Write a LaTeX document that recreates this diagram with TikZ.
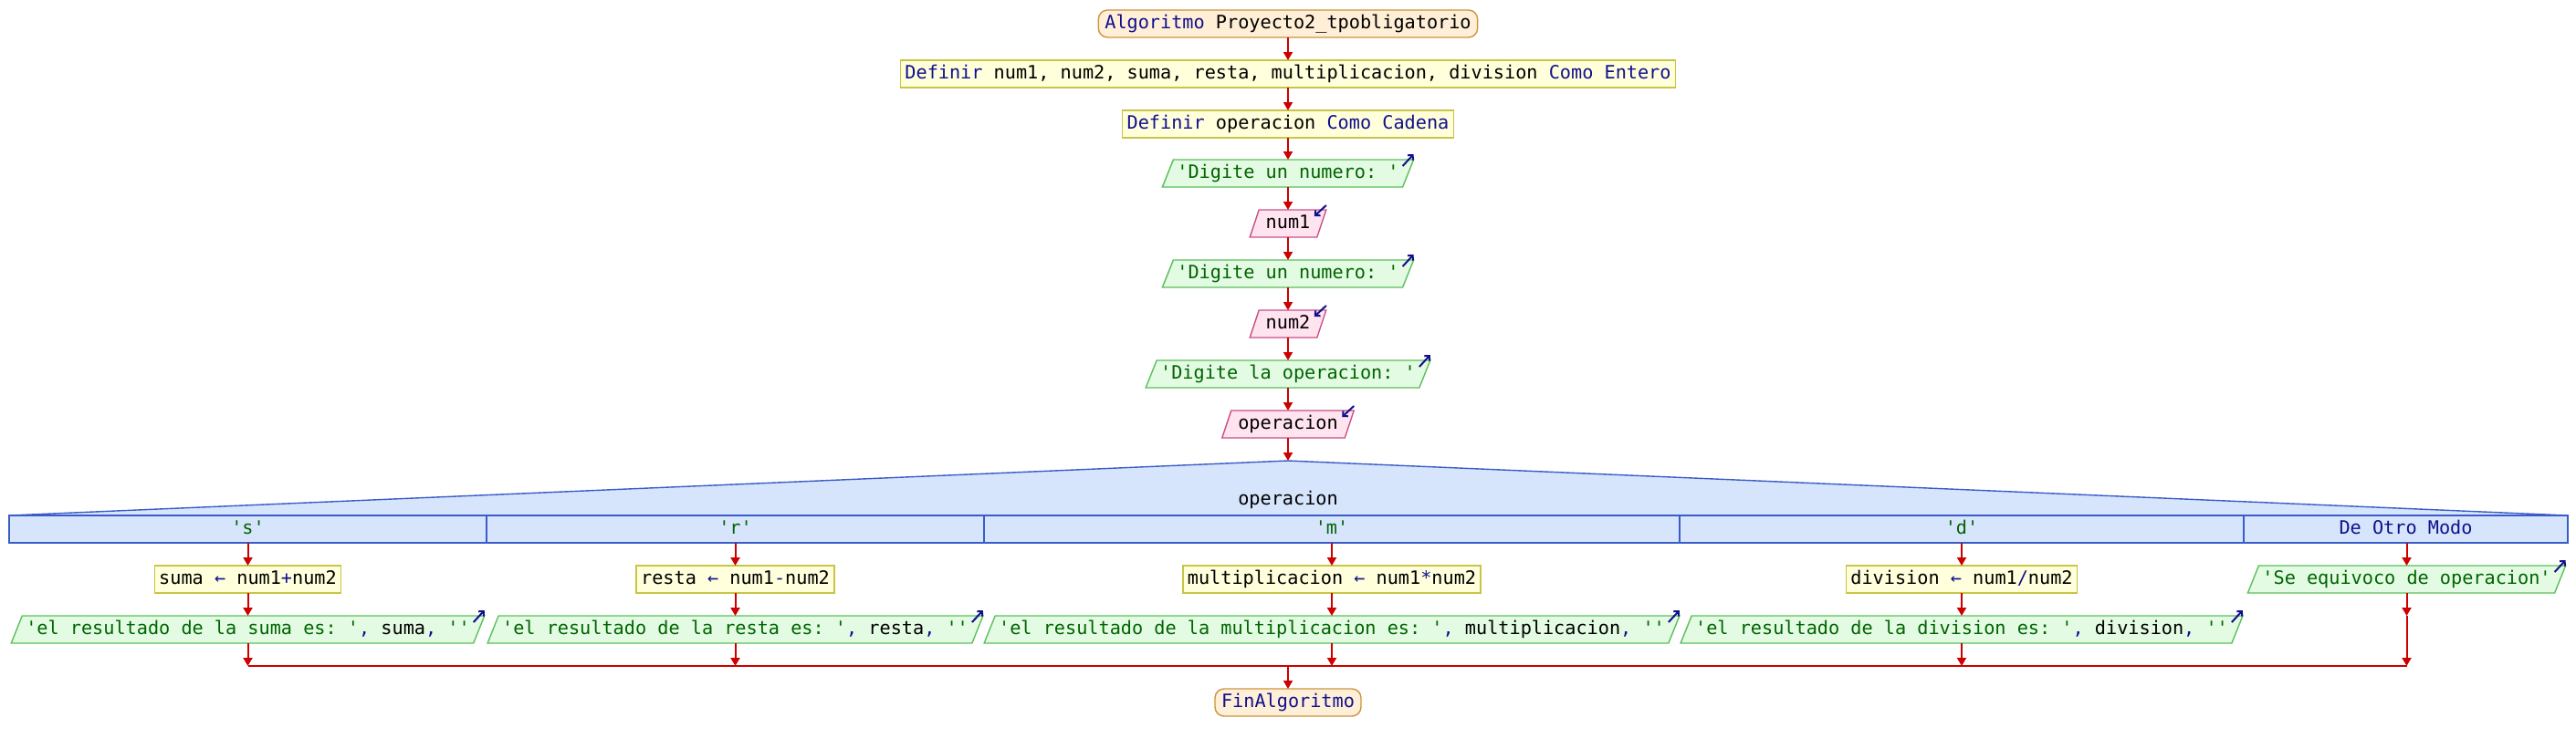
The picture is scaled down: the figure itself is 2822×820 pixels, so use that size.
\documentclass[tikz,border=0pt]{standalone}
\usepackage{fontspec}
\setmonofont{DejaVu Sans Mono}
\usetikzlibrary{arrows.meta,backgrounds}
\definecolor{startFill}{HTML}{FFEFD6}
\definecolor{startDraw}{HTML}{CC9444}
\definecolor{procFill}{HTML}{FFFFDC}
\definecolor{procDraw}{HTML}{C8C446}
\definecolor{outFill}{HTML}{E3FBE3}
\definecolor{outDraw}{HTML}{5CBF5C}
\definecolor{inFill}{HTML}{FFE3EF}
\definecolor{inDraw}{HTML}{C8508A}
\definecolor{swFill}{HTML}{D6E4FC}
\definecolor{swDraw}{HTML}{3A5CC8}
\definecolor{flowRed}{HTML}{CC0000}
\definecolor{kwBlue}{HTML}{10108C}
\definecolor{strGreen}{HTML}{006400}
\newcommand\kwd[1]{\textcolor{kwBlue}{#1}}
\newcommand\qstr[1]{\textcolor{strGreen}{#1}}
\tikzset{
  base/.style={font=\ttfamily\fontsize{20.2}{24}\selectfont, minimum height=30pt,
    inner ysep=0pt, outer sep=0pt, text height=15pt, text depth=4.5pt, line width=1.4pt},
  term/.style={base, draw=startDraw, fill=startFill, rounded corners=10pt, inner xsep=7pt},
  proc/.style={base, draw=procDraw, fill=procFill, inner xsep=5pt},
  outp/.style={base, inner xsep=10pt},
  inp/.style={base, inner xsep=12.5pt},
  casebox/.style={base, draw=swDraw, fill=swFill, inner xsep=0pt},
  plainlabel/.style={base, inner xsep=0pt},
  outshape/.style={draw=outDraw, fill=outFill, line width=1.4pt},
  inshape/.style={draw=inDraw, fill=inFill, line width=1.4pt},
  flow/.style={draw=flowRed, line width=2pt, -{Triangle[length=9pt,width=10pt]}},
  joinline/.style={draw=flowRed, line width=2.6pt},
  icon/.style={draw=kwBlue, line width=2pt, -{Straight Barb[length=4pt,width=8pt]}},
}
\begin{document}
\begin{tikzpicture}[x=1pt,y=-1pt]
\useasboundingbox (0,0) rectangle (2822,820);
% main column
\node[term] (start) at (1411,26) {\kwd{Algoritmo} Proyecto2\_tpobligatorio};
\node[proc] (def1) at (1411,81) {\kwd{Definir} num1, num2, suma, resta, multiplicacion, division \kwd{Como Entero}};
\node[proc] (def2) at (1411,136) {\kwd{Definir} operacion \kwd{Como Cadena}};
\node[outp] (o1) at (1411,190) {\qstr{'Digite un numero: '}};
\node[inp] (i1) at (1411,245) {num1};
\node[outp] (o2) at (1411,300) {\qstr{'Digite un numero: '}};
\node[inp] (i2) at (1411,355) {num2};
\node[outp] (o3) at (1411,410) {\qstr{'Digite la operacion: '}};
\node[inp] (i3) at (1411,465) {operacion};
% switch
\coordinate (apex) at (1411,505);
\fill[swFill] (10,565) -- (apex) -- (2813,565) -- (2813,595) -- (10,595) -- cycle;
\draw[swDraw, line width=1.4pt] (10,565) -- (apex) -- (2813,565);
\node[plainlabel] (swl) at (1411,548) {operacion};
\node[casebox, minimum width=523pt] (cs) at (271.5,580) {\qstr{'s'}};
\node[casebox, minimum width=545pt] (cr) at (805.5,580) {\qstr{'r'}};
\node[casebox, minimum width=762pt] (cm) at (1459,580) {\qstr{'m'}};
\node[casebox, minimum width=618pt] (cd) at (2149,580) {\qstr{'d'}};
\node[casebox, minimum width=355pt] (co) at (2635.5,580) {\kwd{De Otro Modo}};
% branches
\node[proc] (ps) at (271.5,635) {suma \kwd{←} num1\kwd{+}num2};
\node[proc] (pr) at (805.5,635) {resta \kwd{←} num1\kwd{-}num2};
\node[proc] (pm) at (1459,635) {multiplicacion \kwd{←} num1\kwd{*}num2};
\node[proc] (pd) at (2149,635) {division \kwd{←} num1\kwd{/}num2};
\node[outp] (oo) at (2636.5,635) {\qstr{'Se equivoco de operacion'}};
\node[outp] (os) at (271.5,690) {\qstr{'el resultado de la suma es: '}\kwd{,} suma\kwd{,} \qstr{''}};
\node[outp] (or) at (805.5,690) {\qstr{'el resultado de la resta es: '}\kwd{,} resta\kwd{,} \qstr{''}};
\node[outp] (om) at (1459,690) {\qstr{'el resultado de la multiplicacion es: '}\kwd{,} multiplicacion\kwd{,} \qstr{''}};
\node[outp] (od) at (2149,690) {\qstr{'el resultado de la division es: '}\kwd{,} division\kwd{,} \qstr{''}};
\node[term] (fin) at (1411,770) {\kwd{FinAlgoritmo}};
% parallelogram outlines behind the texts
\begin{scope}[on background layer]
\foreach \n in {o1,o2,o3,oo,os,or,om,od}{
  \draw[outshape] ([xshift=6pt]\n.north west) -- ([xshift=6pt]\n.north east)
    -- ([xshift=-6pt]\n.south east) -- ([xshift=-6pt]\n.south west) -- cycle;
}
\foreach \n in {i1,i2,i3}{
  \draw[inshape] ([xshift=5pt]\n.north west) -- ([xshift=5pt]\n.north east)
    -- ([xshift=-5pt]\n.south east) -- ([xshift=-5pt]\n.south west) -- cycle;
}
\end{scope}
% icons
\foreach \n in {o1,o2,o3,oo,os,or,om,od}{
  \draw[icon] ([xshift=-6pt,yshift=-7pt]\n.north east) -- ([xshift=6pt,yshift=6pt]\n.north east);
}
\foreach \n in {i1,i2,i3}{
  \draw[icon] ([xshift=5pt,yshift=5pt]\n.north east) -- ([xshift=-8pt,yshift=-7pt]\n.north east);
}
% join coordinates
\coordinate (js) at (271.5,730);
\coordinate (jr) at (805.5,730);
\coordinate (jm) at (1459,730);
\coordinate (jd) at (2149,730);
\coordinate (jo) at (2636.5,730);
\coordinate (jc) at (1411,730);
\coordinate (omid) at (2636.5,675);
% connectors
\draw[flow] (start) -- (def1);
\draw[flow] (def1) -- (def2);
\draw[flow] (def2) -- (o1);
\draw[flow] (o1) -- (i1);
\draw[flow] (i1) -- (o2);
\draw[flow] (o2) -- (i2);
\draw[flow] (i2) -- (o3);
\draw[flow] (o3) -- (i3);
\draw[flow] (i3) -- (apex);
\draw[flow] (cs) -- (ps);
\draw[flow] (cr) -- (pr);
\draw[flow] (cm) -- (pm);
\draw[flow] (cd) -- (pd);
\draw[flow] (co.south -| oo) -- (oo);
\draw[flow] (ps) -- (os);
\draw[flow] (pr) -- (or);
\draw[flow] (pm) -- (om);
\draw[flow] (pd) -- (od);
\draw[flow] (oo) -- (omid);
\draw[joinline] (js) -- (jo);
\draw[flow] (os) -- (js);
\draw[flow] (or) -- (jr);
\draw[flow] (om) -- (jm);
\draw[flow] (od) -- (jd);
\draw[flow] (omid) -- (jo);
\draw[flow] (jc) -- (fin);
\end{tikzpicture}
\end{document}
